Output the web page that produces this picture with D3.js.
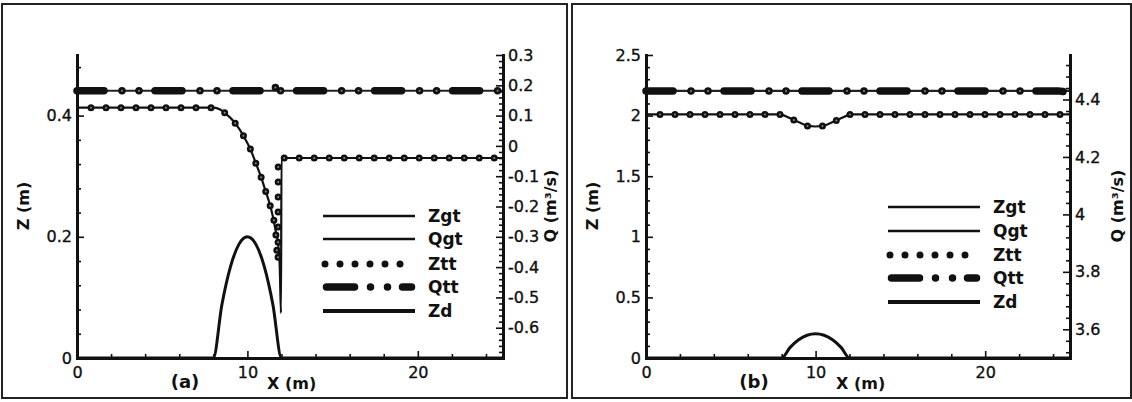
<!DOCTYPE html>
<html><head><meta charset="utf-8">
<script src="https://cdn.jsdelivr.net/npm/d3@7"></script>
<style>
html,body{margin:0;padding:0;background:#fff;}
svg{display:block;}
text{font-family:"DejaVu Sans",sans-serif;fill:#111;}
</style></head><body>
<svg id="chart" width="1132" height="402"></svg>
<script>
// ---------- data ----------
const xTickValues = [0, 10, 20];
const aLeftTicks = [0, 0.2, 0.4];
const aRightTicks = [-0.6, -0.5, -0.4, -0.3, -0.2, -0.1, 0, 0.1, 0.2, 0.3];
const bLeftTicks = [0, 0.5, 1, 1.5, 2, 2.5];
const bRightTicks = [3.6, 3.8, 4, 4.2, 4.4];
const legendNames = ["Zgt", "Qgt", "Ztt", "Qtt", "Zd"];
const panelNames = ["(a)", "(b)"];

// bed profile (hump), same for both cases
const bedX = [0, 8, 8.5, 9, 9.5, 10, 10.5, 11, 11.5, 12, 25];
const bedZ = [0, 0, 0.0875, 0.15, 0.1875, 0.2, 0.1875, 0.15, 0.0875, 0, 0];

// panel (a): transcritical flow with jump
const aZgtX = [0, 8, 8.4, 8.7, 9.35, 9.8, 10.2, 10.5, 10.8, 11.05, 11.3, 11.5, 11.65, 11.8, 11.9, 11.97, 12.0, 25];
const aZgtZ = [0.413, 0.413, 0.41, 0.404, 0.385, 0.365, 0.343, 0.321, 0.299, 0.277, 0.255, 0.233, 0.211, 0.189, 0.15, 0.074, 0.33, 0.33];
const aZttX = [0, 8, 8.4, 8.7, 9.35, 9.8, 10.2, 10.5, 10.8, 11.05, 11.3, 11.5, 11.65, 11.75, 11.8, 11.81, 25];
const aZttZ = [0.413, 0.413, 0.41, 0.404, 0.385, 0.365, 0.343, 0.321, 0.299, 0.277, 0.255, 0.233, 0.211, 0.17, 0.16, 0.33, 0.33];
const aQgtX = [0, 25];
const aQgtQ = [0.182, 0.182];
const aQttX = [0, 11.6, 11.72, 11.85, 25];
const aQttQ = [0.182, 0.182, 0.212, 0.182, 0.182];

// panel (b): subcritical flow
const bZgtX = [0, 8, 8.7, 9.5, 10, 10.5, 11.3, 12, 25];
const bZgtZ = [2.01, 2.01, 1.965, 1.915, 1.91, 1.915, 1.965, 2.01, 2.01];
const bZttX = [0, 8, 8.7, 9.5, 10, 10.5, 11.3, 12, 25];
const bZttZ = [2.01, 2.01, 1.965, 1.915, 1.91, 1.915, 1.965, 2.01, 2.01];
const bQgtX = [0, 25];
const bQgtQ = [4.43, 4.43];
const bQttX = [0, 24.3, 25];
const bQttQ = [4.43, 4.43, 4.425];

// ---------- drawing ----------
const svg = d3.select("#chart");
const TOP = 55, BOTTOM = 358;

function styleAxis(g, domainW) {
  g.attr("font-size", null).attr("font-family", null);
  g.select(".domain").attr("stroke", "#111").attr("stroke-width", domainW).attr("stroke-linecap", "square");
  g.selectAll(".tick line").attr("stroke", "#111").attr("stroke-width", 1.6);
  g.selectAll(".tick text").style("font-size", "16px").attr("fill", "#111")
    .attr("stroke", "#111").attr("stroke-width", 0.35);
}

function panel(cfg) {
  const g = svg.append("g");
  // frame
  g.append("rect").attr("x", cfg.frame[0]).attr("y", cfg.frame[1])
    .attr("width", cfg.frame[2]).attr("height", cfg.frame[3])
    .attr("fill", "none").attr("stroke", "#222").attr("stroke-width", 2);

  const x = d3.scaleLinear().domain([0, 25]).range([cfg.left, cfg.right]);
  const yL = d3.scaleLinear().domain(cfg.zDomain).range([BOTTOM, TOP]);
  const yR = d3.scaleLinear().domain(cfg.qDomain).range([BOTTOM, TOP]);

  const lineL = d3.line().x(d => x(d[0])).y(d => yL(d[1]));
  const lineR = d3.line().x(d => x(d[0])).y(d => yR(d[1]));
  const lineLs = d3.line().x(d => x(d[0])).y(d => yL(d[1])).curve(d3.curveMonotoneX);

  // Zd
  g.append("path").attr("d", lineLs(d3.zip(bedX, bedZ)))
    .attr("fill", "none").attr("stroke", "#111").attr("stroke-width", 3);
  // Zgt
  g.append("path").attr("d", (cfg.smooth ? lineLs : lineL)(d3.zip(cfg.zgtX, cfg.zgtZ)))
    .attr("fill", "none").attr("stroke", "#111").attr("stroke-width", 2.2);
  // Qgt
  g.append("path").attr("d", lineR(d3.zip(cfg.qgtX, cfg.qgtQ)))
    .attr("fill", "none").attr("stroke", "#222").attr("stroke-width", 2.2);
  // Ztt (dots along path)
  const zttD = (cfg.smooth ? lineLs : lineL)(d3.zip(cfg.zttX, cfg.zttZ));
  g.append("path").attr("d", zttD).attr("fill", "none").attr("stroke", "#111")
    .attr("stroke-width", 7).attr("stroke-linecap", "round")
    .attr("stroke-dasharray", "0,15").attr("stroke-dashoffset", 1);
  g.append("path").attr("d", zttD).attr("fill", "none").attr("stroke", "#8a8a8a")
    .attr("stroke-width", 2).attr("stroke-linecap", "round")
    .attr("stroke-dasharray", "0,15").attr("stroke-dashoffset", 1);
  // Qtt (dash dot dot)
  const qttD = lineR(d3.zip(cfg.qttX, cfg.qttQ));
  g.append("path").attr("d", qttD).attr("fill", "none").attr("stroke", "#111")
    .attr("stroke-width", 7.5).attr("stroke-linecap", "round")
    .attr("stroke-dasharray", "27,18,0,17,0,16");
  g.append("path").attr("d", qttD).attr("fill", "none").attr("stroke", "#8a8a8a")
    .attr("stroke-width", 2).attr("stroke-linecap", "round")
    .attr("stroke-dasharray", "0,17,0,61").attr("stroke-dashoffset", -45);

  // axes
  const fmt = d => String(d);
  const gx = g.append("g").attr("transform", `translate(0,${BOTTOM})`)
    .call(d3.axisBottom(x).tickValues(xTickValues).tickSize(-7).tickSizeOuter(0).tickPadding(9).tickFormat(fmt));
  styleAxis(gx, 3);
  const gxm = g.append("g").attr("transform", `translate(0,${BOTTOM})`)
    .call(d3.axisBottom(x).tickValues(d3.range(2, 25, 2).filter(v => v % 10 !== 0)).tickSize(-4).tickFormat(""));
  gxm.select(".domain").remove(); styleAxis(gxm, 0);

  const gl = g.append("g").attr("transform", `translate(${cfg.left},0)`)
    .call(d3.axisLeft(yL).tickValues(cfg.lTicks).tickSize(-7).tickSizeOuter(0).tickPadding(5).tickFormat(fmt));
  styleAxis(gl, 3);
  const glm = g.append("g").attr("transform", `translate(${cfg.left},0)`)
    .call(d3.axisLeft(yL).tickValues(cfg.lMinor).tickSize(-4).tickFormat(""));
  glm.select(".domain").remove(); styleAxis(glm, 0);

  const gr = g.append("g").attr("transform", `translate(${cfg.right},0)`)
    .call(d3.axisRight(yR).tickValues(cfg.rTicks).tickSize(-7).tickSizeOuter(0).tickPadding(5).tickFormat(fmt));
  styleAxis(gr, 3);
  const grm = g.append("g").attr("transform", `translate(${cfg.right},0)`)
    .call(d3.axisRight(yR).tickValues(cfg.rMinor).tickSize(-4).tickFormat(""));
  grm.select(".domain").remove(); styleAxis(grm, 0);

  // titles
  g.append("text").attr("transform", `translate(${cfg.left - 48},${206}) rotate(-90)`)
    .attr("text-anchor", "middle").style("font-size", "16px").style("font-weight", "bold").text("Z (m)");
  g.append("text").attr("transform", `translate(${cfg.qTitleX},${206}) rotate(-90)`)
    .attr("text-anchor", "middle").style("font-size", "16px").style("font-weight", "bold").text("Q (m³/s)");
  g.append("text").attr("x", cfg.left + 108).attr("y", 388).attr("text-anchor", "middle")
    .style("font-size", "18px").style("font-weight", "bold").text(cfg.name);
  g.append("text").attr("x", cfg.left + 190).attr("y", 389)
    .style("font-size", "16px").style("font-weight", "bold").text("X (m)");

  // legend
  const lg = g.append("g");
  const L0 = cfg.legX, L1 = cfg.legX + 92;
  legendNames.forEach((name, i) => {
    const y = cfg.legY[i];
    const seg = lg.append("path").attr("d", `M${L0},${y}H${L1}`).attr("fill", "none");
    if (name === "Zgt" || name === "Qgt") seg.attr("stroke", "#111").attr("stroke-width", 2.4);
    if (name === "Zd") seg.attr("stroke", "#111").attr("stroke-width", 3.8);
    if (name === "Ztt") {
      seg.attr("d", `M${L0 + 2},${y}H${L0 + 78}`).attr("stroke", "#111").attr("stroke-width", 7)
        .attr("stroke-linecap", "round").attr("stroke-dasharray", "0,15");
    }
    if (name === "Qtt") {
      seg.attr("d", `M${L0 + 3.5},${y}H${L1 - 3.5}`).attr("stroke", "#111").attr("stroke-width", 7.5)
        .attr("stroke-linecap", "round").attr("stroke-dasharray", "28,16,0,17,0,15,10,100");
    }
    lg.append("text").attr("x", L1 + 13).attr("y", y).attr("dy", "0.36em")
      .style("font-size", "17px").style("font-weight", "bold").text(name);
  });
}

panel({
  name: panelNames[0], frame: [2, 4, 565, 394], left: 77, right: 503,
  zDomain: [0, 0.5], qDomain: [-0.7, 0.3],
  lTicks: aLeftTicks, lMinor: d3.range(0.04, 0.5, 0.04).filter(v => Math.abs(v / 0.2 - Math.round(v / 0.2)) > 1e-6),
  rTicks: aRightTicks, rMinor: d3.range(-0.68, 0.3, 0.02).filter(v => Math.abs(v * 10 - Math.round(v * 10)) > 1e-6),
  zgtX: aZgtX, zgtZ: aZgtZ, zttX: aZttX, zttZ: aZttZ,
  qgtX: aQgtX, qgtQ: aQgtQ, qttX: aQttX, qttQ: aQttQ, smooth: true,
  qTitleX: 556, legX: 323, legY: [216, 239, 264, 287, 311]
});
panel({
  name: panelNames[1], frame: [572, 4, 559, 394], left: 646, right: 1070,
  zDomain: [0, 2.5], qDomain: [3.5, 4.555],
  lTicks: bLeftTicks, lMinor: d3.range(0.1, 2.5, 0.1).filter(v => Math.abs(v / 0.5 - Math.round(v / 0.5)) > 1e-6),
  rTicks: bRightTicks, rMinor: d3.range(3.52, 4.55, 0.04).filter(v => Math.abs(v / 0.2 - Math.round(v / 0.2)) > 1e-6),
  zgtX: bZgtX, zgtZ: bZgtZ, zttX: bZttX, zttZ: bZttZ,
  qgtX: bQgtX, qgtQ: bQgtQ, qttX: bQttX, qttQ: bQttQ, smooth: false,
  qTitleX: 1123, legX: 888, legY: [207, 231, 255, 278, 302]
});
</script>
</body></html>
